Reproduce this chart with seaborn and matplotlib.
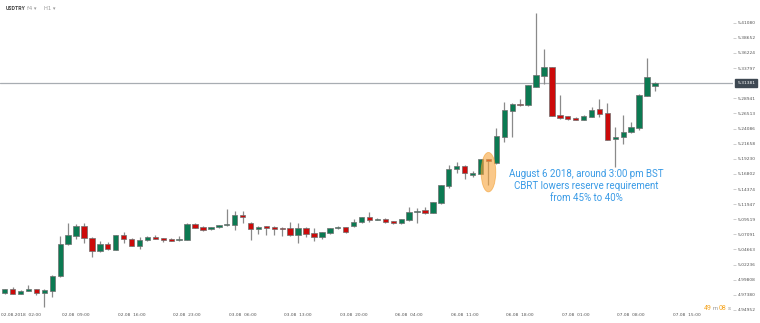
import matplotlib
matplotlib.use("Agg")
import matplotlib.pyplot as plt
from matplotlib.patches import Ellipse
import seaborn as sns
import numpy as np
import pandas as pd

# ---- data (USDTRY, H1) ----
open_ = [4.9763, 4.9827, 4.9752, 4.9795, 4.9827, 4.9763, 4.9800, 5.0036, 5.0550, 5.0688,
         5.0839, 5.0656, 5.0447, 5.0559, 5.0463, 5.0704, 5.0640, 5.0523, 5.0614, 5.0667,
         5.0646, 5.0630, 5.0614, 5.0624, 5.0871, 5.0823, 5.0791, 5.0823, 5.0855, 5.0855,
         5.1020, 5.0887, 5.0800, 5.0839, 5.0832, 5.0816, 5.0807, 5.0694, 5.0807, 5.0726,
         5.0662, 5.0726, 5.0807, 5.0823, 5.0839, 5.0903, 5.0993, 5.0945, 5.0961, 5.0919,
         5.0892, 5.0935, 5.1068, 5.1101, 5.1052, 5.1218, 5.1491, 5.1754, 5.1812, 5.1667,
         5.1678, 5.1915, 5.1850, 5.2278, 5.2695, 5.2803, 5.2782, 5.3076, 5.3257, 5.3392,
         5.2621, 5.2605, 5.2583, 5.2546, 5.2599, 5.2718, 5.2653, 5.2236, 5.2273, 5.2348,
         5.2422, 5.2936, 5.3096]
high = [4.9832, 4.9859, 4.9808, 4.9896, 4.9832, 4.9824, 5.0049, 5.0683, 5.0887, 5.0881,
        5.0887, 5.0660, 5.0598, 5.0582, 5.0707, 5.0743, 5.0643, 5.0662, 5.0678, 5.0699,
        5.0656, 5.0651, 5.0678, 5.0887, 5.0884, 5.0848, 5.0828, 5.0865, 5.1121, 5.1089,
        5.1089, 5.0913, 5.0848, 5.0848, 5.0844, 5.0828, 5.0913, 5.0887, 5.0820, 5.0816,
        5.0752, 5.0816, 5.0839, 5.0828, 5.0951, 5.0993, 5.1073, 5.0967, 5.0967, 5.0924,
        5.0956, 5.1154, 5.1138, 5.1144, 5.1229, 5.1502, 5.1828, 5.1876, 5.1818, 5.1727,
        5.1919, 5.1919, 5.2422, 5.2830, 5.2823, 5.2883, 5.3108, 5.4269, 5.3686, 5.3397,
        5.2947, 5.2615, 5.2589, 5.2626, 5.2750, 5.2888, 5.2814, 5.2438, 5.2626, 5.2509,
        5.2958, 5.3536, 5.3151]
low = [4.9752, 4.9744, 4.9744, 4.9792, 4.9741, 4.9538, 4.9699, 5.0030, 5.0534, 5.0630,
       5.0576, 5.0341, 5.0431, 5.0453, 5.0453, 5.0576, 5.0515, 5.0470, 5.0607, 5.0627,
       5.0582, 5.0603, 5.0603, 5.0620, 5.0812, 5.0759, 5.0784, 5.0816, 5.0848, 5.0779,
       5.0887, 5.0619, 5.0715, 5.0699, 5.0694, 5.0683, 5.0688, 5.0566, 5.0672, 5.0603,
       5.0635, 5.0720, 5.0800, 5.0736, 5.0832, 5.0897, 5.0913, 5.0940, 5.0887, 5.0876,
       5.0871, 5.0929, 5.0897, 5.1032, 5.1046, 5.1192, 5.1449, 5.1690, 5.1603, 5.1635,
       5.1674, 5.1497, 5.1845, 5.2197, 5.2278, 5.2771, 5.2771, 5.3071, 5.3119, 5.2605,
       5.2562, 5.2541, 5.2546, 5.2541, 5.2594, 5.2589, 5.2220, 5.1796, 5.2160, 5.2342,
       5.2385, 5.2931, 5.3016]
close = [4.9827, 4.9752, 4.9805, 4.9827, 4.9763, 4.9816, 5.0041, 5.0559, 5.0699, 5.0839,
         5.0646, 5.0447, 5.0559, 5.0470, 5.0704, 5.0635, 5.0523, 5.0614, 5.0667, 5.0635,
         5.0614, 5.0607, 5.0635, 5.0871, 5.0816, 5.0784, 5.0823, 5.0860, 5.0876, 5.1020,
         5.0988, 5.0795, 5.0832, 5.0816, 5.0800, 5.0791, 5.0699, 5.0807, 5.0720, 5.0662,
         5.0747, 5.0812, 5.0823, 5.0743, 5.0903, 5.0988, 5.0940, 5.0961, 5.0903, 5.0887,
         5.0951, 5.1073, 5.1089, 5.1057, 5.1224, 5.1497, 5.1759, 5.1812, 5.1690, 5.1690,
         5.1915, 5.1883, 5.2284, 5.2701, 5.2798, 5.2782, 5.3103, 5.3263, 5.3392, 5.2610,
         5.2573, 5.2562, 5.2551, 5.2615, 5.2706, 5.2647, 5.2225, 5.2278, 5.2353, 5.2438,
         5.2952, 5.3231, 5.31381]

x_tick_pos = [2, 9, 16, 23, 30, 37, 44, 51, 58, 65, 72, 79, 86]
x_tick_labels = ["02.08.2018  02:00", "02.08  09:00", "02.08  16:00", "02.08  23:00",
                 "03.08  06:00", "03.08  13:00", "03.08  20:00", "06.08  04:00",
                 "06.08  11:00", "06.08  18:00", "07.08  01:00", "07.08  08:00",
                 "07.08  15:00"]
y_ticks = [5.41080, 5.38652, 5.36224, 5.33797, 5.28941, 5.26513, 5.24086, 5.21658,
           5.19230, 5.16802, 5.14374, 5.11947, 5.09519, 5.07091, 5.04663, 5.02236,
           4.99808, 4.97380, 4.94952]
current_price = 5.31381
event_index = 61
event_text = "August 6 2018, around 3:00 pm BST\nCBRT lowers reserve requirement\nfrom 45% to 40%"

df = pd.DataFrame({"open": open_, "high": high, "low": low, "close": close})
df["idx"] = np.arange(len(df))
df["up"] = df["close"] >= df["open"]

sns.set_theme(style="white")
plt.rcParams["font.family"] = ["Roboto", "DejaVu Sans"]

W, H = 760, 323
fig = plt.figure(figsize=(W / 100, H / 100), dpi=100)
ax = fig.add_axes([0, 1 - 311 / H, 733 / W, 311 / H])

green, red = "#0b7a52", "#cc0a0a"
sns.despine(ax=ax, left=True, bottom=True, right=True, top=True)
# wicks
ax.vlines(df["idx"], df["low"], df["high"], color="#8a8a8a", lw=0.9, zorder=2)
# bodies
body_bottom = np.minimum(df["open"], df["close"])
body_h = np.maximum(np.abs(df["close"] - df["open"]), 0.0012)
colors = np.where(df["up"], green, red)
ax.bar(df["idx"], body_h, bottom=body_bottom, width=0.68, color=colors,
       edgecolor="#6f6f6f", linewidth=0.5, zorder=3)

ax.set_xlim(-0.593, 91.84)
ax.set_ylim(4.94787, 5.44725)

# current price line
ax.axhline(current_price, color="#a8adb2", lw=0.9, zorder=1)

tick_font = dict(family="DejaVu Sans", size=3.2)
# axes ticks
ax.yaxis.tick_right()
ax.set_yticks(y_ticks)
ax.set_yticklabels([f"{v:.5f}" for v in y_ticks], fontdict=tick_font)
ax.tick_params(axis="y", which="both", right=True, length=2, width=0.5, color="#bbbbbb",
               pad=1.5, labelcolor="#555555")
ax.set_xticks(x_tick_pos)
ax.set_xticklabels(x_tick_labels, fontdict=tick_font)
ax.tick_params(axis="x", length=0, pad=1.6, labelcolor="#555555")
ax.grid(False)

# current price tag
ax.annotate(f"{current_price:.5f}", xy=(1.0, current_price),
            xycoords=("axes fraction", "data"), xytext=(3, 0), textcoords="offset points",
            ha="left", va="center", fontsize=3.2, family="DejaVu Sans", color="white",
            bbox=dict(boxstyle="square,pad=0.4", fc="#3e4852", ec="#3e4852"))

# event highlight
ev_lo, ev_hi = low[event_index], high[event_index]
pad = (ev_hi - ev_lo) * 0.25
ax.add_patch(Ellipse((event_index, (ev_lo + ev_hi) / 2), 1.85, (ev_hi - ev_lo) + 2 * pad,
                     fc="#f7a43a", ec="#f39c2a", alpha=0.6, lw=0.6, zorder=4))
ax.text(event_index + 12.3, 5.1765, event_text, ha="center", va="top",
        fontsize=7, color="#3a9be6", linespacing=1.25, zorder=5)

# header
fig.text(6 / W, 1 - 8 / H, "USDTRY", fontsize=3.8, color="#444444", fontweight="bold", va="center")
fig.text(27 / W, 1 - 8 / H, "f4 \u25be", fontsize=3.8, color="#999999", va="center",
         family=["DejaVu Sans"])
fig.text(44 / W, 1 - 8 / H, "H1 \u25be", fontsize=3.8, color="#999999", va="center",
         family=["DejaVu Sans"])

# countdown
cy = 1 - 308 / H
fig.text(704 / W, cy, "49", fontsize=5, color="#f5a623", va="center")
fig.text(712.5 / W, cy, "m", fontsize=4.2, color="#999999", va="center")
fig.text(719 / W, cy, "08", fontsize=5, color="#f5a623", va="center")
fig.text(727.5 / W, cy, "s", fontsize=4.2, color="#999999", va="center")

fig.savefig("out.png", dpi=100, facecolor="white")
